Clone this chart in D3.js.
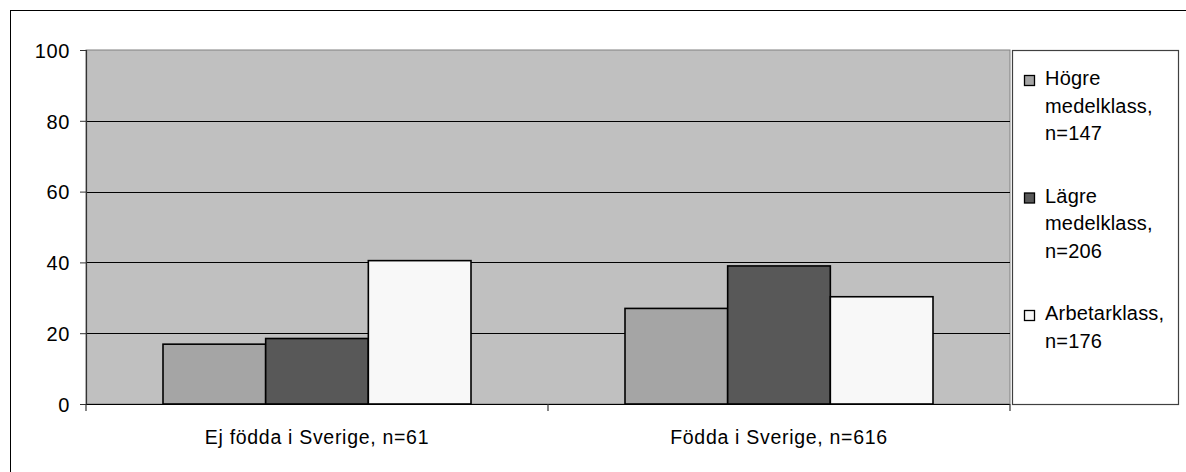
<!DOCTYPE html>
<html><head><meta charset="utf-8">
<script src="https://cdn.jsdelivr.net/npm/d3@7"></script>
<style>body{margin:0;background:#fff}svg{display:block}text{font-family:"Liberation Sans",Arial,sans-serif;fill:#000}</style>
</head><body><svg id="c" width="1186" height="472"></svg>
<script>
const categories = ["Ej födda i Sverige, n=61", "Födda i Sverige, n=616"];
const seriesNames = ["Högre medelklass, n=147", "Lägre medelklass, n=206", "Arbetarklass, n=176"];
const legendLines = [["Högre", "medelklass,", "n=147"], ["Lägre", "medelklass,", "n=206"], ["Arbetarklass,", "n=176"]];
const hogre = [16.9, 27.0];
const lagre = [18.5, 39.0];
const arbetar = [40.5, 30.3];
const yTicks = [0, 20, 40, 60, 80, 100];
const colors = ["#a5a5a5", "#585858", "#f8f8f8"];

const seriesVals = [hogre, lagre, arbetar];
const svg = d3.select("#c");
const L = 86, R = 1010, T = 50, B = 404;

svg.append("rect").attr("x", 10.5).attr("y", 10.5).attr("width", 1190).attr("height", 480)
  .attr("fill", "#fff").attr("stroke", "#000").attr("stroke-width", 1);

const x0 = d3.scaleBand().domain(categories).range([L, R]).padding(0);
const bw = x0.bandwidth();
const x1 = d3.scaleBand().domain(seriesNames).range([bw / 6, bw * 5 / 6]).padding(0);
const y = d3.scaleLinear().domain([0, 100]).range([B, T]);

svg.append("rect").attr("x", L).attr("y", T).attr("width", R - L).attr("height", B - T)
  .attr("fill", "#c0c0c0").attr("stroke", "#808080").attr("stroke-width", 1);

// gridlines
svg.append("g").selectAll("line").data(yTicks.filter(d => d > 0 && d < 100)).join("line")
  .attr("x1", L).attr("x2", R).attr("y1", d => Math.round(y(d)) + 0.5).attr("y2", d => Math.round(y(d)) + 0.5)
  .attr("stroke", "#000").attr("stroke-width", 1);

// bars
const data = [];
categories.forEach((c, i) => seriesNames.forEach((s, j) => data.push({c, s, j, v: seriesVals[j][i]})));
svg.append("g").selectAll("rect").data(data).join("rect")
  .attr("x", d => x0(d.c) + x1(d.s))
  .attr("y", d => y(d.v))
  .attr("width", x1.bandwidth())
  .attr("height", d => B - y(d.v))
  .attr("fill", d => colors[d.j]).attr("stroke", "#000").attr("stroke-width", 1.6);

// y axis
const ya = svg.append("g").attr("transform", `translate(${L},0)`)
  .call(d3.axisLeft(y).tickValues(yTicks).tickSize(6).tickPadding(10));
ya.select(".domain").attr("stroke", "#333").attr("stroke-width", 1.2);
ya.selectAll(".tick line").attr("stroke", "#333");
ya.selectAll(".tick text").style("font-size", "20px").style("letter-spacing", "0.6px").attr("dy", "0.36em");

// x axis
svg.append("line").attr("x1", L).attr("x2", R).attr("y1", B + 0.5).attr("y2", B + 0.5).attr("stroke", "#000").attr("stroke-width", 1.2);
const bounds = [L].concat(categories.map(c => x0(c) + bw));
svg.append("g").selectAll("line").data(bounds).join("line")
  .attr("x1", d => d).attr("x2", d => d).attr("y1", B).attr("y2", B + 7)
  .attr("stroke", "#333").attr("stroke-width", 1.2);
svg.append("g").selectAll("text").data(categories).join("text")
  .attr("x", d => x0(d) + bw / 2).attr("y", 444).attr("text-anchor", "middle")
  .style("font-size", "19.5px").style("letter-spacing", "0.7px").text(d => d);

// legend
svg.append("rect").attr("x", 1012.5).attr("y", 50.5).attr("width", 166).attr("height", 354)
  .attr("fill", "#fff").attr("stroke", "#404040").attr("stroke-width", 1.2);
const lg = svg.append("g").selectAll("g").data(seriesNames).join("g")
  .attr("transform", (d, i) => `translate(1024,${85 + i * 117.5})`);
lg.append("rect").attr("x", 0.5).attr("y", -9.5).attr("width", 10).attr("height", 10)
  .attr("fill", (d, i) => colors[i]).attr("stroke", "#000").attr("stroke-width", 1.3);
lg.each(function(d, i) {
  const g = d3.select(this);
  legendLines[i].forEach((t, k) => g.append("text").attr("x", 21).attr("y", k * 27.5)
    .style("font-size", "20px").style("letter-spacing", "0.2px").text(t));
});
</script></body></html>
